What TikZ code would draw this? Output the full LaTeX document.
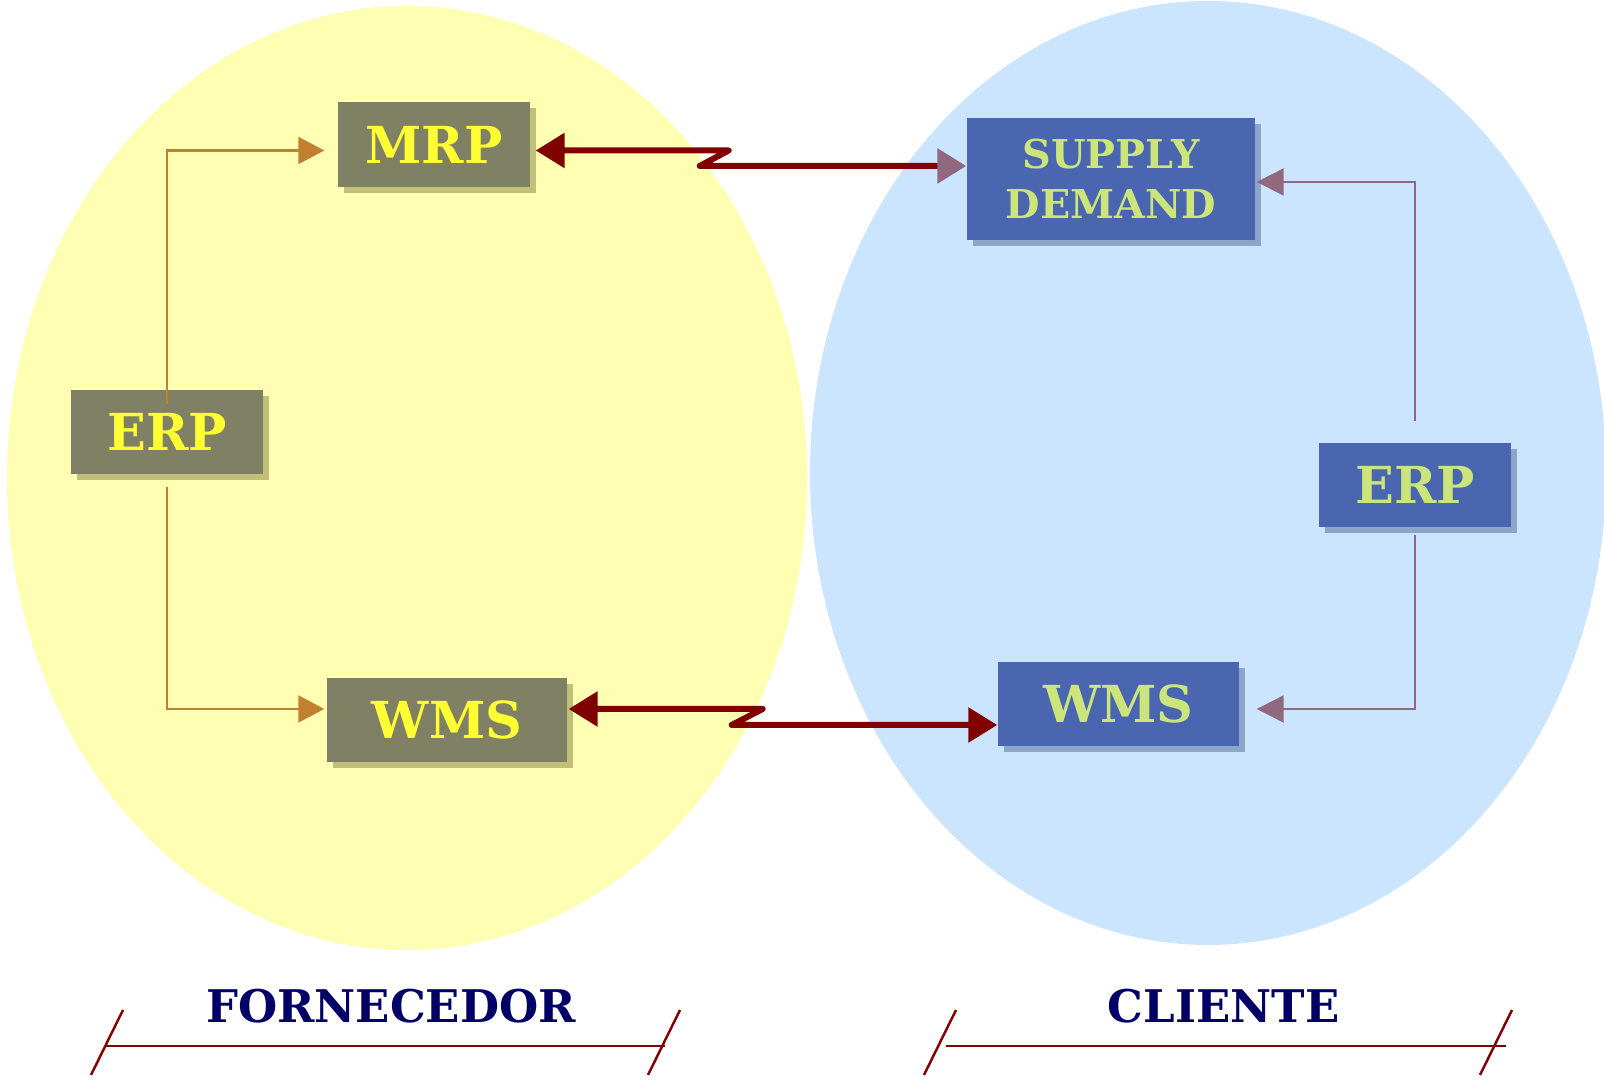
\documentclass[tikz,border=0pt]{standalone}
\usepackage{fontspec}
\setmainfont{DejaVu Serif}
\usetikzlibrary{arrows.meta,shadows}
\definecolor{fornbg}{RGB}{255,255,179}
\definecolor{clibg}{RGB}{204,229,255}
\definecolor{fornbox}{RGB}{128,128,100}
\definecolor{fornshade}{RGB}{192,192,120}
\definecolor{forntext}{RGB}{255,255,51}
\definecolor{clibox}{RGB}{74,102,176}
\definecolor{clishade}{RGB}{140,165,200}
\definecolor{clitext}{RGB}{204,229,122}
\definecolor{fornarrow}{RGB}{192,128,48}
\definecolor{cliarrow}{RGB}{144,104,128}
\definecolor{linkred}{RGB}{128,0,0}
\definecolor{sidetext}{RGB}{0,0,102}
\tikzset{
  fornsys/.style={fill=fornbox, text=forntext, inner sep=0pt, minimum height=0.84cm,
    font=\bfseries\fontsize{14.5}{16}\selectfont,
    drop shadow={shadow xshift=0.06cm, shadow yshift=-0.06cm, fill=fornshade, opacity=1}},
  clisys/.style={fill=clibox, text=clitext, inner sep=0pt, minimum height=0.84cm,
    font=\bfseries\fontsize{14.5}{16}\selectfont,
    drop shadow={shadow xshift=0.06cm, shadow yshift=-0.06cm, fill=clishade, opacity=1}},
  fornlink/.style={draw=fornarrow, line width=0.6pt, -{Triangle[length=0.26cm, width=0.27cm]}},
  clilink/.style={draw=cliarrow, line width=0.6pt, -{Triangle[length=0.27cm, width=0.27cm]}},
  zigzag/.style={draw=linkred, line width=1.7pt, line join=round, line cap=round},
  sidelabel/.style={text=sidetext, anchor=base, font=\bfseries\fontsize{12.8}{15}\selectfont},
}
\begin{document}
\begin{tikzpicture}
  \useasboundingbox (0,0) rectangle (16.04,-10.81);
  % the two sides
  \fill[fornbg] (4.07,-4.78) ellipse [x radius=4.00, y radius=4.72];
  \fill[clibg] (12.08,-4.73) ellipse [x radius=3.98, y radius=4.72];

  % fornecedor
  \node[fornsys, minimum width=1.92cm, minimum height=0.85cm] (mrp) at (4.34,-1.445) {MRP};
  \node[fornsys, minimum width=1.92cm] (erpf) at (1.67,-4.32) {ERP};
  \node[fornsys, minimum width=2.40cm] (wmsf) at (4.47,-7.20) {WMS};

  % cliente
  \node[clisys, minimum width=2.88cm, minimum height=1.22cm, align=center,
    font=\bfseries\fontsize{11.3}{14.2}\selectfont] (sd) at (11.11,-1.79) {SUPPLY\\DEMAND};
  \node[clisys, minimum width=1.92cm] (erpc) at (14.15,-4.85) {ERP};
  \node[clisys, minimum width=2.41cm] (wmsc) at (11.185,-7.04) {WMS};

  % ERP -> sistemas
  \draw[fornlink, shorten <=-0.15cm] (erpf.north) |- ([xshift=-0.13cm, yshift=-0.06cm]mrp.west);
  \draw[fornlink, shorten <=0.12cm] (erpf.south) |- ([xshift=-0.02cm, yshift=0.11cm]wmsf.west);
  \draw[clilink, shorten <=0.21cm] (erpc.north) |- ([xshift=0.01cm, yshift=-0.03cm]sd.east);
  \draw[clilink, shorten <=0.07cm] (erpc.south) |- ([xshift=0.17cm, yshift=-0.05cm]wmsc.east);

  % ligacoes entre fornecedor e cliente
  \draw[zigzag, {Triangle[length=0.29cm, width=0.34cm]}-{Triangle[length=0.29cm, width=0.34cm, color=cliarrow]}]
    ([xshift=0.05cm, yshift=-0.06cm]mrp.east) -- ++(1.93,0) -- ++(-0.29,-0.155) -- ([yshift=0.13cm]sd.west);
  \draw[zigzag, {Triangle[length=0.29cm, width=0.34cm]}-{Triangle[length=0.29cm, width=0.34cm]}]
    ([xshift=0.01cm, yshift=0.11cm]wmsf.east) -- ++(1.94,0) -- ++(-0.31,-0.16) -- ([yshift=-0.21cm]wmsc.west);

  % legendas
  \node[sidelabel] (forn) at (3.91,-10.23) {FORNECEDOR};
  \node[sidelabel] (cli) at (12.235,-10.23) {CLIENTE};
  \foreach \a/\b in {1.05/6.65, 9.46/15.06} {
    \draw[linkred, line width=0.7pt] (\a,-10.46) -- (\b,-10.46);
  }
  \foreach \t in {1.06, 6.63, 9.39, 14.95} {
    \draw[linkred, line width=0.7pt] (\t+0.17,-10.10) -- (\t-0.15,-10.75);
  }
\end{tikzpicture}
\end{document}
